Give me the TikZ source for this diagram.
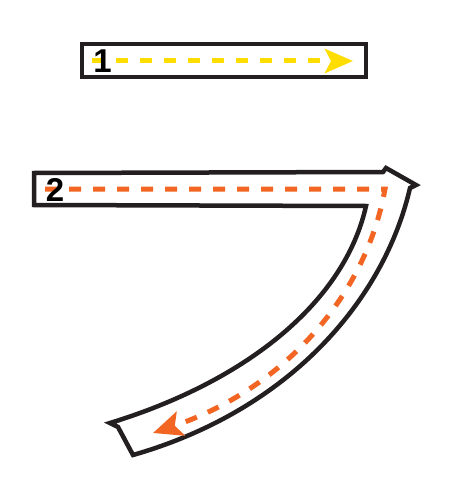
\documentclass[tikz,border=0pt]{standalone}
\usepackage{fontspec}
\setmainfont{Liberation Sans}
\usetikzlibrary{arrows.meta}
\definecolor{yel}{RGB}{255,221,0}
\definecolor{org}{RGB}{242,101,34}
\definecolor{ink}{RGB}{35,31,32}
\begin{document}
\begin{tikzpicture}[x=1pt,y=-1pt,
  outline/.style={draw=ink,line width=4.5pt,fill=white,line join=miter},
  guide/.style={line width=5pt,dash pattern=on 12pt off 12pt},
  num/.style={font=\bfseries\fontsize{33}{33}\selectfont,inner sep=0pt,text=black}]
\fill[white] (0,0) rectangle (450,500);
\useasboundingbox (0,0) rectangle (450,500);
% stroke 1
\draw[outline] (82,44) rectangle (366,77);
\draw[guide,yel,-{Stealth[length=28pt,width=24pt,inset=6pt]}] (92,61) -- (353,61);
\node[num] (n1) at (102.5,61.5) {1};
% stroke 2
\draw[outline] (366,206) -- (34,205) -- (34,173) -- (383,172) -- (386,168) -- (416,185) -- (410,188)
  .. controls (384,300) and (290,410) .. (133,455) -- (118,427) -- (110,423)
  .. controls (250,380) and (345,300) .. (366,206) -- cycle;
\draw[guide,org,-{Stealth[length=29pt,width=25pt,inset=6pt]}] (45,189) -- (385,189)
  .. controls (365,300) and (280,390) .. (153,433);
\node[num] (n2) at (55,190) {2};
\end{tikzpicture}
\end{document}
